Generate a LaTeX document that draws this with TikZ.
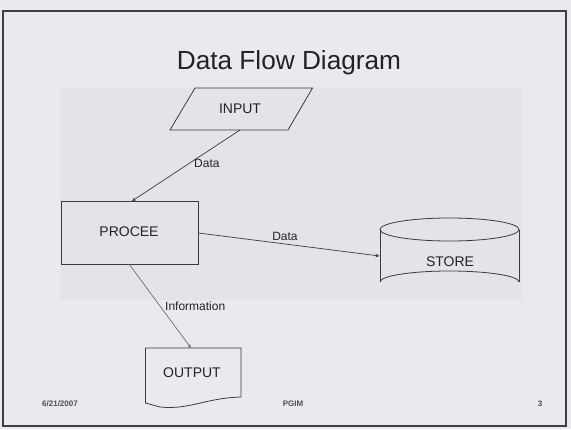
\documentclass[tikz,border=0pt]{standalone}
\usepackage{fontspec}
\setmainfont{Liberation Sans}
\usetikzlibrary{arrows.meta}
\definecolor{bgc}{RGB}{234,234,238}
\definecolor{panel}{RGB}{228,228,232}
\definecolor{ink}{RGB}{35,35,35}
\definecolor{lin}{RGB}{60,60,60}
\definecolor{lightlin}{RGB}{110,110,110}
\tikzset{
  shapeline/.style={draw=lin, line width=0.8pt},
  lbl/.style={text=ink, font=\fontsize{14}{16}\selectfont, inner sep=0pt},
  elbl/.style={text=ink, font=\fontsize{12}{14}\selectfont, inner sep=0pt},
  foot/.style={text=ink!80, font=\bfseries\fontsize{8}{9}\selectfont, inner sep=0pt},
  flow/.style={draw=lin, line width=0.7pt, -{Stealth[length=4pt,width=3.5pt]}},
}
\begin{document}
\begin{tikzpicture}[x=1pt,y=-1pt]
\useasboundingbox (0,0) rectangle (571,429);
\fill[bgc] (0,0) rectangle (571,429);
\fill[panel] (60,88) rectangle (522,300);
% frame
\draw[black!75, line width=1.2pt] (3,11) rectangle (566,426);
% title
\node[text=ink, inner sep=0pt, font=\fontsize{26.2}{30}\selectfont] (title) at (289,63) {Data Flow Diagram};
% INPUT parallelogram
\draw[shapeline] (195,88) -- (312.5,88) -- (288,130) -- (170,130) -- cycle;
\node[lbl] (input) at (240,109) {INPUT};
\coordinate (inb) at (240,130);
% PROCEE
\node[shapeline, minimum width=137.5pt, minimum height=63pt, inner sep=0pt] (proc) at (129.75,232.5) {};
\node[lbl] (proctext) at (129,232) {PROCEE};
\coordinate (proctop) at (132,201);
\coordinate (procright) at (198.5,233);
\coordinate (procbot) at (129,264);
% STORE cylinder
\draw[shapeline] (380,229.5) -- (380,282);
\draw[shapeline] (519,229.5) -- (519,282);
\draw[shapeline] (449.5,229.5) ellipse[x radius=69.5, y radius=11.5];
\draw[shapeline] (380,282) arc[start angle=180, end angle=360, x radius=69.5, y radius=11];
\node[lbl] (store) at (450,262) {STORE};
\coordinate (storeleft) at (379.5,256);
% OUTPUT document
\draw[shapeline] (145.5,403) -- (145.5,348) -- (241,348) -- (241,397)
  .. controls (205,398) and (190,410) .. (160,407) -- (145.5,403);
\node[lbl] (output) at (192,373) {OUTPUT};
\coordinate (outtop) at (191,348);
% connectors
\draw[flow] (inb) -- (proctop);
\node[elbl, anchor=west] (d1) at (194,163) {Data};
\draw[flow] (procright) -- (storeleft);
\node[elbl] (d2) at (285,236) {Data};
\draw[flow, draw=lightlin] (procbot) -- (outtop);
\node[elbl, anchor=west] (info) at (165,306) {Information};
% footer
\node[foot] (date) at (60,404) {6/21/2007};
\node[foot] (pgim) at (293,404) {PGIM};
\node[foot] (page) at (540,404) {3};
\end{tikzpicture}
\end{document}
